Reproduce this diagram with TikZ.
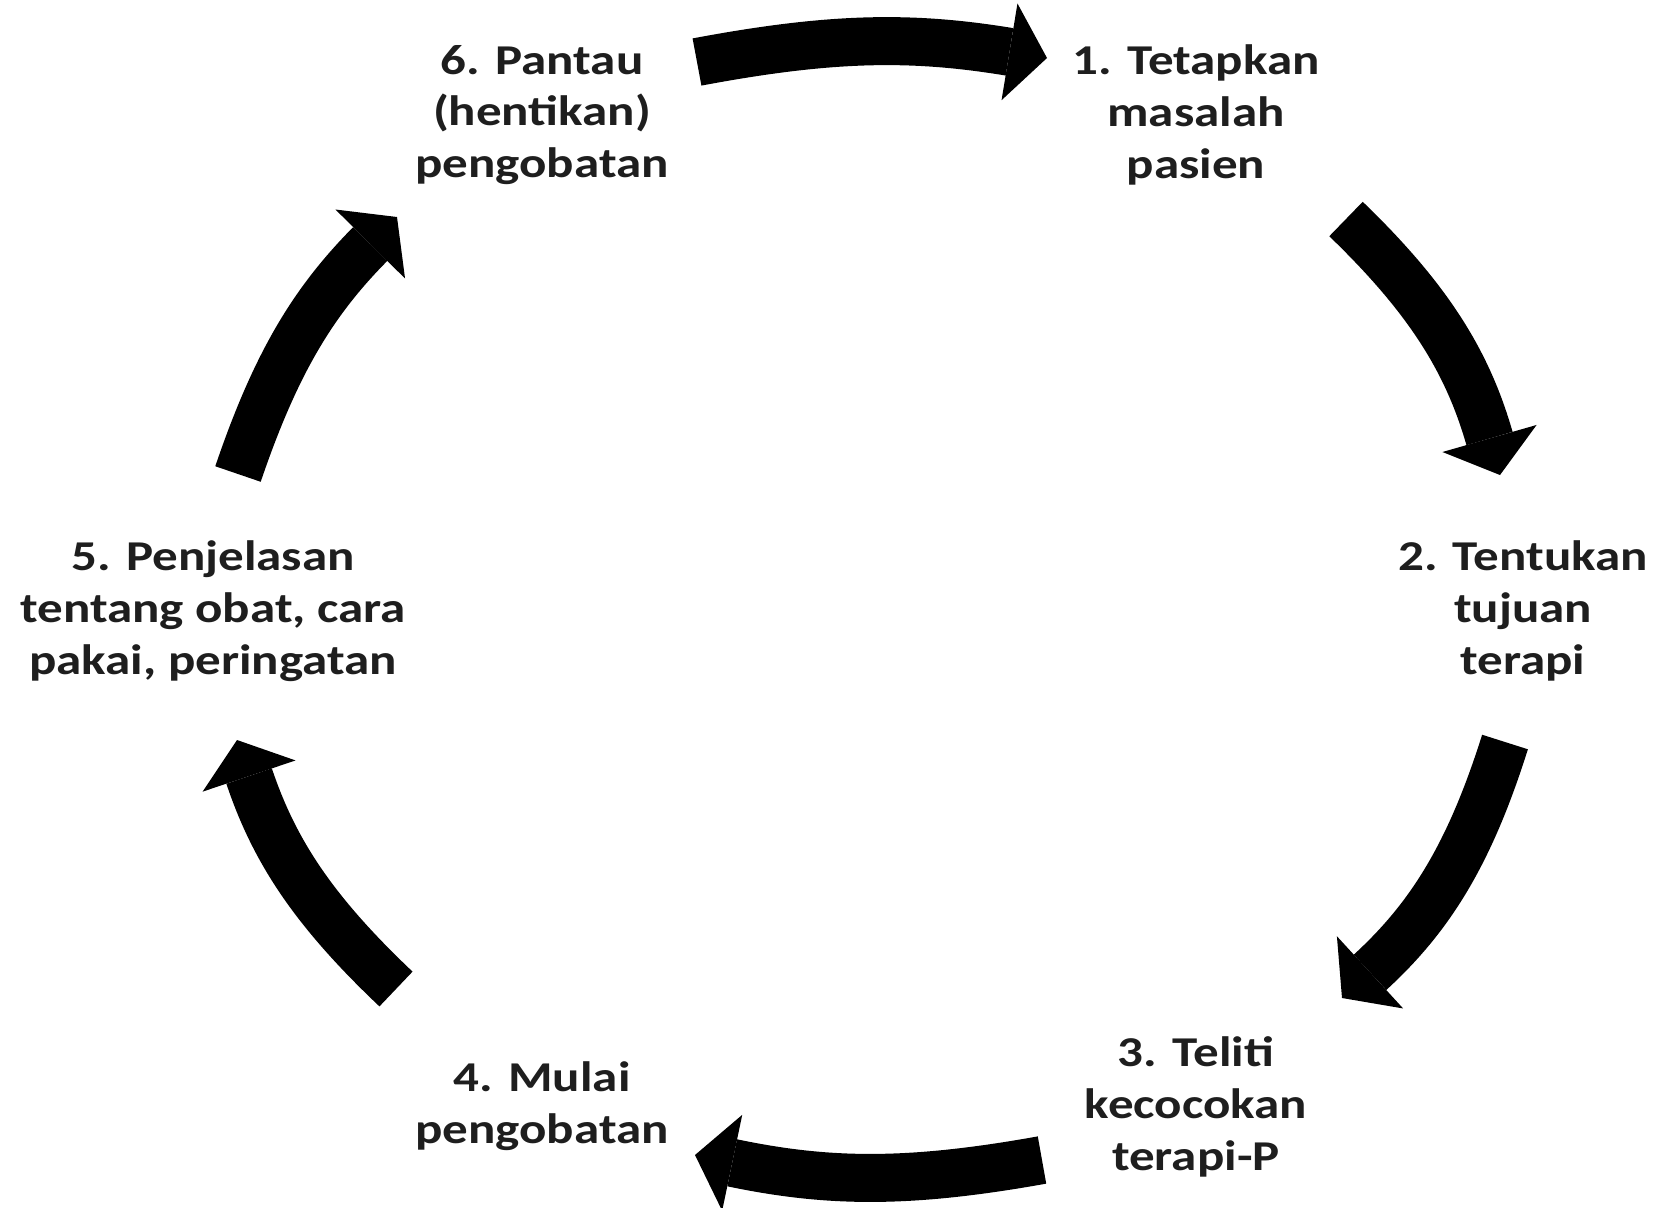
\documentclass[tikz,border=0pt]{standalone}
\usepackage{fontspec}
\newfontfamily\lblfont{Carlito}[FakeStretch=1.2]
\usetikzlibrary{arrows.meta}
\definecolor{txt}{HTML}{1E1E1E}
\tikzset{
  lbl/.style={align=center, text=txt, inner sep=0pt,
    font=\lblfont\bfseries\fontsize{21.25pt}{25.9pt}\selectfont},
  cyc/.style={line width=24pt, draw=black,
    -{Triangle[length=19pt,width=49pt,line width=0pt]}}
}
\begin{document}
\begin{tikzpicture}[x=0.5pt,y=0.5pt]
\useasboundingbox (0,0) rectangle (1672,-1207);
% labels
\node[lbl] (n6) at (542,-115) {6. Pantau\\(hentikan)\\pengobatan};
\node[lbl] (n1) at (1196,-115) {1. Tetapkan\\masalah\\pasien};
\node[lbl] (n2) at (1523,-611) {2. Tentukan\\tujuan\\terapi};
\node[lbl] (n3) at (1196,-1107) {3. Teliti\\kecocokan\\terapi-P};
\node[lbl] (n4) at (542,-1106) {4. Mulai\\pengobatan};
\node[lbl] (n5) at (213,-611) {5. Penjelasan\\tentang obat, cara\\pakai, peringatan};
% arrow ends
\coordinate (t61) at (697,-62);   \coordinate (h61) at (1047,-58);
\coordinate (t12) at (1346,-219); \coordinate (h12) at (1500,-475);
\coordinate (t23) at (1505,-742); \coordinate (h23) at (1342,-998);
\coordinate (t34) at (1042,-1160);\coordinate (h34) at (695,-1155);
\coordinate (t45) at (396,-989);  \coordinate (h45) at (237,-740);
\coordinate (t56) at (238,-474);  \coordinate (h56) at (397,-217);
% arrows
\draw[cyc] (t61) to[bend left=10] (h61);
\draw[cyc] (t12) to[bend left=15] (h12);
\draw[cyc] (t23) to[bend left=15] (h23);
\draw[cyc] (t34) to[bend left=11] (h34);
\draw[cyc] (t45) to[bend left=14] (h45);
\draw[cyc] (t56) to[bend left=13] (h56);
\end{tikzpicture}
\end{document}
